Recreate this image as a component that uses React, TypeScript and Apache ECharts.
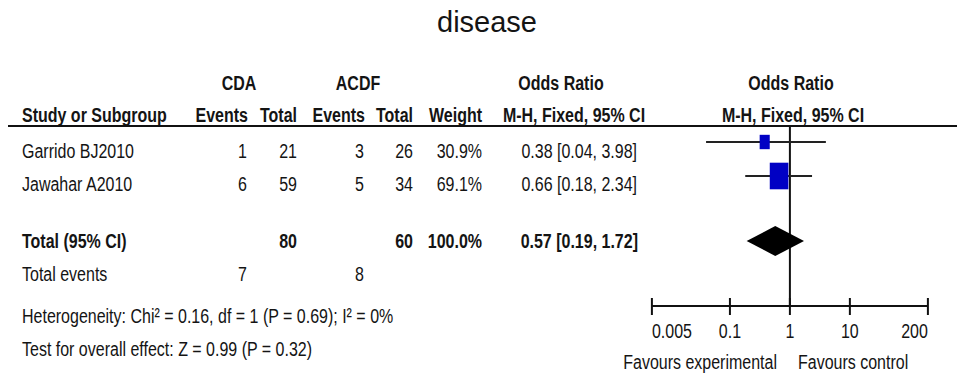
import React, { useEffect, useRef } from "react";
import * as echarts from "echarts";

// ---------- data ----------
const chartTitle = "disease";
const groupNames = ["CDA", "ACDF"];
const studies = ["Garrido BJ2010", "Jawahar A2010"];
const cdaEvents = [1, 6];
const cdaTotal = [21, 59];
const acdfEvents = [3, 5];
const acdfTotal = [26, 34];
const weights = [30.9, 69.1];
const orEst = [0.38, 0.66];
const orLow = [0.04, 0.18];
const orHigh = [3.98, 2.34];

const totalLabel = "Total (95% CI)";
const totalCda = 80;
const totalAcdf = 60;
const totalWeight = 100.0;
const pooledOr = [0.57, 0.19, 1.72];
const totalEventsLabel = "Total events";
const totalEventsCda = 7;
const totalEventsAcdf = 8;
const heterogeneityText = "Heterogeneity: Chi² = 0.16, df = 1 (P = 0.69); I² = 0%";
const overallEffectText = "Test for overall effect: Z = 0.99 (P = 0.32)";

const axisTicks = [0.005, 0.1, 1, 10, 200];
const axisTickLabels = ["0.005", "0.1", "1", "10", "200"];
const favoursLabels = ["Favours experimental", "Favours control"];

// ---------- layout ----------
const W = 957;
const H = 377;
const FONT = '"Liberation Sans", Arial, Helvetica, sans-serif';
const FS = 21;
const SX = 0.762;
const TEXT_COLOR = "#141414";
const Y_GROUP = 83;
const Y_HEADER = 115;
const Y_RULE = 126;
const Y_ROWS = [151, 184];
const Y_MARKERS = [142, 176];
const Y_TOTAL = 241;
const Y_TOTAL_EVENTS = 274;
const Y_HET = 316;
const Y_TEST = 349;
const Y_AXIS = 306;
const Y_TICK_LABEL = 331;
const Y_FAVOURS = 362;
const X_LEFT = 22;
const X_CDA_EV = 247;
const X_CDA_TOT = 297;
const X_ACDF_EV = 364;
const X_ACDF_TOT = 413;
const X_WEIGHT = 482;
const X_OR = 637;

const fmtOr = (e: number, l: number, h: number) =>
  `${e.toFixed(2)} [${l.toFixed(2)}, ${h.toFixed(2)}]`;

function txt(text: string, x: number, y: number, align: string, bold = false, size = FS, sx = SX) {
  return {
    type: "text",
    x,
    y,
    scaleX: sx,
    silent: true,
    style: {
      text,
      fontFamily: FONT,
      fontSize: size,
      fontWeight: bold ? "bold" : "normal",
      fill: TEXT_COLOR,
      textAlign: align,
      textVerticalAlign: "middle",
      align,
      verticalAlign: "middle",
    },
  };
}

function buildGraphics() {
  const g: any[] = [];
  g.push(txt(chartTitle, 487, 22, "center", false, 29, 1));
  // group header
  g.push(txt(groupNames[0], 239, Y_GROUP, "center", true));
  g.push(txt(groupNames[1], 358, Y_GROUP, "center", true));
  g.push(txt("Odds Ratio", 561, Y_GROUP, "center", true));
  g.push(txt("Odds Ratio", 791, Y_GROUP, "center", true));
  // column header
  g.push(txt("Study or Subgroup", X_LEFT, Y_HEADER, "left", true));
  g.push(txt("Events", X_CDA_EV + 1, Y_HEADER, "right", true));
  g.push(txt("Total", X_CDA_TOT, Y_HEADER, "right", true));
  g.push(txt("Events", X_ACDF_EV + 1, Y_HEADER, "right", true));
  g.push(txt("Total", X_ACDF_TOT, Y_HEADER, "right", true));
  g.push(txt("Weight", X_WEIGHT, Y_HEADER, "right", true));
  g.push(txt("M-H, Fixed, 95% CI", 574, Y_HEADER, "center", true));
  g.push(txt("M-H, Fixed, 95% CI", 793, Y_HEADER, "center", true));
  g.push({
    type: "line",
    silent: true,
    shape: { x1: 8, y1: Y_RULE, x2: W, y2: Y_RULE },
    style: { stroke: "#111", lineWidth: 2 },
  });
  // study rows
  studies.forEach((s, i) => {
    const y = Y_ROWS[i];
    g.push(txt(s, X_LEFT, y, "left"));
    g.push(txt(String(cdaEvents[i]), X_CDA_EV, y, "right"));
    g.push(txt(String(cdaTotal[i]), X_CDA_TOT, y, "right"));
    g.push(txt(String(acdfEvents[i]), X_ACDF_EV, y, "right"));
    g.push(txt(String(acdfTotal[i]), X_ACDF_TOT, y, "right"));
    g.push(txt(weights[i].toFixed(1) + "%", X_WEIGHT, y, "right"));
    g.push(txt(fmtOr(orEst[i], orLow[i], orHigh[i]), X_OR, y, "right"));
  });
  // total row
  g.push(txt(totalLabel, X_LEFT, Y_TOTAL, "left", true));
  g.push(txt(String(totalCda), X_CDA_TOT, Y_TOTAL, "right", true));
  g.push(txt(String(totalAcdf), X_ACDF_TOT, Y_TOTAL, "right", true));
  g.push(txt(totalWeight.toFixed(1) + "%", X_WEIGHT, Y_TOTAL, "right", true));
  g.push(txt(fmtOr(pooledOr[0], pooledOr[1], pooledOr[2]), X_OR + 1, Y_TOTAL, "right", true));
  // total events
  g.push(txt(totalEventsLabel, X_LEFT, Y_TOTAL_EVENTS, "left"));
  g.push(txt(String(totalEventsCda), X_CDA_EV, Y_TOTAL_EVENTS, "right"));
  g.push(txt(String(totalEventsAcdf), X_ACDF_EV, Y_TOTAL_EVENTS, "right"));
  g.push(txt(heterogeneityText, X_LEFT, Y_HET, "left"));
  g.push(txt(overallEffectText, X_LEFT, Y_TEST, "left"));
  // favours
  g.push(txt(favoursLabels[0], 777, Y_FAVOURS, "right"));
  g.push(txt(favoursLabels[1], 798, Y_FAVOURS, "left"));
  return g;
}

export default function App() {
  const ref = useRef<HTMLDivElement>(null);
  useEffect(() => {
    if (!ref.current) return;
    const chart = echarts.init(ref.current, undefined, { renderer: "svg" });
    const plotLeft = 651.9;
    const plotRight = 927.9;
    const option: any = {
      animation: false,
      backgroundColor: "#ffffff",
      grid: { left: plotLeft, width: plotRight - plotLeft, top: 0, height: H, containLabel: false },
      xAxis: {
        type: "log",
        logBase: 10,
        min: axisTicks[0],
        max: axisTicks[axisTicks.length - 1],
        axisLine: { show: false },
        axisTick: { show: false },
        axisLabel: { show: false },
        splitLine: { show: false },
      },
      yAxis: {
        type: "value",
        min: 0,
        max: H,
        inverse: true,
        show: false,
        axisLine: { show: false },
        axisTick: { show: false },
        axisLabel: { show: false },
        splitLine: { show: false },
      },
      graphic: buildGraphics(),
      series: [
        {
          // line of no effect
          type: "line",
          data: [
            [1, Y_RULE],
            [1, Y_AXIS],
          ],
          symbol: "none",
          silent: true,
          lineStyle: { color: "#111", width: 2 },
          z: 2,
        },
        {
          // axis line
          type: "line",
          data: [
            [axisTicks[0], Y_AXIS],
            [axisTicks[axisTicks.length - 1], Y_AXIS],
          ],
          symbol: "none",
          silent: true,
          lineStyle: { color: "#111", width: 2 },
          z: 2,
        },
        {
          // ticks and tick labels
          type: "custom",
          silent: true,
          data: axisTicks.map((t, i) => [t, Y_AXIS, i]),
          renderItem: (params: any, api: any) => {
            const p = api.coord([api.value(0), api.value(1)]);
            const i = api.value(2);
            const align = i === 0 ? "left" : i === axisTicks.length - 1 ? "right" : "center";
            return {
              type: "group",
              children: [
                {
                  type: "line",
                  shape: { x1: p[0], y1: p[1] - 8, x2: p[0], y2: p[1] + 9 },
                  style: { stroke: "#111", lineWidth: 2 },
                },
                {
                  type: "text",
                  x: p[0],
                  y: Y_TICK_LABEL,
                  scaleX: SX,
                  style: {
                    text: axisTickLabels[i],
                    fontFamily: FONT,
                    fontSize: FS,
                    fill: TEXT_COLOR,
                    textAlign: align,
                    textVerticalAlign: "middle",
                    align,
                    verticalAlign: "middle",
                  },
                },
              ],
            };
          },
          z: 3,
        },
        {
          // study CIs and weighted squares
          type: "custom",
          silent: true,
          data: studies.map((_, i) => [orEst[i], Y_MARKERS[i], orLow[i], orHigh[i], weights[i]]),
          renderItem: (params: any, api: any) => {
            const y = api.value(1);
            const pE = api.coord([api.value(0), y]);
            const pL = api.coord([api.value(2), y]);
            const pH = api.coord([api.value(3), y]);
            const side = 4.5 + 0.32 * api.value(4);
            const h = side;
            const w = side * 0.7;
            return {
              type: "group",
              children: [
                {
                  type: "line",
                  shape: { x1: pL[0], y1: pL[1], x2: pH[0], y2: pH[1] },
                  style: { stroke: "#222", lineWidth: 2 },
                },
                {
                  type: "rect",
                  shape: { x: pE[0] - w / 2, y: pE[1] - h / 2, width: w, height: h },
                  style: { fill: "#0000c4" },
                },
              ],
            };
          },
          z: 4,
        },
        {
          // pooled diamond
          type: "custom",
          silent: true,
          data: [[pooledOr[0], Y_TOTAL, pooledOr[1], pooledOr[2]]],
          renderItem: (params: any, api: any) => {
            const y = api.value(1);
            const pE = api.coord([api.value(0), y]);
            const pL = api.coord([api.value(2), y]);
            const pH = api.coord([api.value(3), y]);
            return {
              type: "polygon",
              shape: {
                points: [
                  [pL[0], pL[1]],
                  [pE[0], pE[1] - 15],
                  [pH[0], pH[1]],
                  [pE[0], pE[1] + 15],
                ],
              },
              style: { fill: "#000" },
            };
          },
          z: 5,
        },
      ],
    };
    chart.setOption(option);
    return () => chart.dispose();
  }, []);
  return (
    <div
      ref={ref}
      style={{ position: "absolute", left: 0, top: 0, width: W, height: H, background: "#fff" }}
    />
  );
}
